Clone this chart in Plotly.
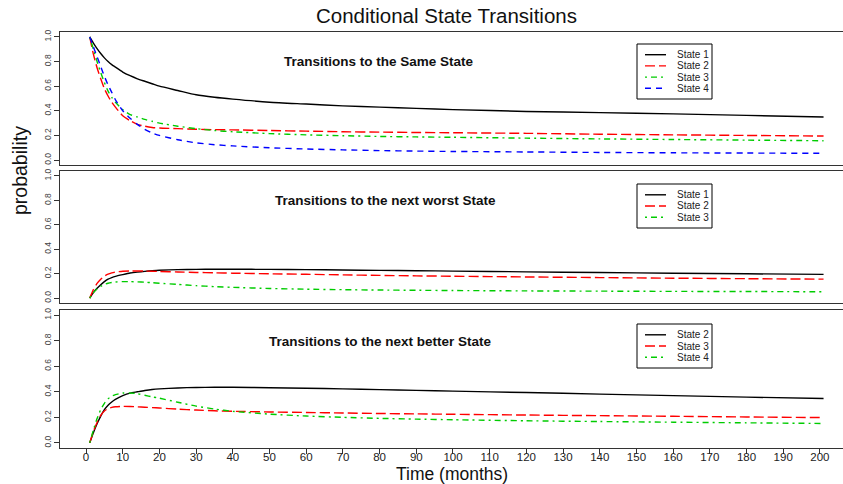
import plotly.graph_objects as go

# ---------------- data ----------------
months = [1, 2, 3, 4, 5, 6, 7, 8, 10, 12, 14, 16, 18, 20, 25, 30, 35, 40,
          50, 60, 70, 80, 90, 100, 120, 140, 160, 180, 201]

same_s1 = [1.0, 0.95, 0.905, 0.865, 0.83, 0.80, 0.775, 0.755, 0.715, 0.685, 0.66, 0.64, 0.62, 0.60,
           0.565, 0.53, 0.51, 0.495, 0.47, 0.455, 0.44, 0.43, 0.42, 0.41, 0.395, 0.385, 0.375, 0.363, 0.35]
same_s2 = [1.0, 0.86, 0.75, 0.66, 0.58, 0.52, 0.47, 0.43, 0.36, 0.32, 0.29, 0.275, 0.265, 0.26,
           0.255, 0.25, 0.247, 0.245, 0.24, 0.235, 0.23, 0.227, 0.224, 0.222, 0.217, 0.21, 0.205, 0.20, 0.195]
same_s3 = [1.0, 0.90, 0.80, 0.71, 0.63, 0.56, 0.51, 0.47, 0.41, 0.37, 0.35, 0.33, 0.315, 0.30,
           0.275, 0.255, 0.24, 0.23, 0.215, 0.205, 0.198, 0.192, 0.188, 0.185, 0.178, 0.172, 0.167, 0.162, 0.157]
same_s4 = [1.0, 0.92, 0.84, 0.76, 0.68, 0.61, 0.55, 0.49, 0.40, 0.34, 0.29, 0.25, 0.22, 0.20,
           0.165, 0.14, 0.125, 0.115, 0.10, 0.09, 0.083, 0.077, 0.073, 0.07, 0.066, 0.062, 0.059, 0.057, 0.055]

worse_s1 = [0.0, 0.045, 0.08, 0.11, 0.135, 0.155, 0.168, 0.178, 0.192, 0.205, 0.213, 0.219, 0.224, 0.228,
            0.233, 0.235, 0.236, 0.236, 0.235, 0.233, 0.23, 0.227, 0.224, 0.221, 0.215, 0.209, 0.204, 0.199, 0.194]
worse_s2 = [0.0, 0.07, 0.12, 0.155, 0.18, 0.196, 0.206, 0.213, 0.22, 0.222, 0.222, 0.221, 0.22, 0.218,
            0.214, 0.21, 0.207, 0.204, 0.199, 0.195, 0.19, 0.186, 0.182, 0.179, 0.173, 0.168, 0.163, 0.159, 0.155]
worse_s3 = [0.0, 0.045, 0.075, 0.097, 0.112, 0.122, 0.128, 0.132, 0.135, 0.135, 0.133, 0.13, 0.126, 0.122,
            0.112, 0.102, 0.094, 0.088, 0.079, 0.073, 0.069, 0.066, 0.064, 0.062, 0.059, 0.057, 0.055, 0.054, 0.052]

better_s2 = [0.0, 0.08, 0.15, 0.21, 0.26, 0.295, 0.32, 0.34, 0.37, 0.39, 0.40, 0.41, 0.418, 0.423,
             0.43, 0.434, 0.435, 0.435, 0.432, 0.428, 0.423, 0.417, 0.411, 0.405, 0.394, 0.382, 0.37, 0.358, 0.347]
better_s3 = [0.0, 0.09, 0.16, 0.215, 0.25, 0.268, 0.278, 0.283, 0.286, 0.285, 0.282, 0.279, 0.276, 0.273,
             0.264, 0.257, 0.251, 0.247, 0.242, 0.238, 0.234, 0.23, 0.227, 0.224, 0.218, 0.213, 0.208, 0.203, 0.198]
better_s4 = [0.0, 0.10, 0.19, 0.26, 0.31, 0.345, 0.365, 0.378, 0.39, 0.39, 0.385, 0.373, 0.36, 0.35,
             0.318, 0.288, 0.265, 0.247, 0.225, 0.21, 0.20, 0.192, 0.186, 0.181, 0.173, 0.167, 0.162, 0.157, 0.152]

x_ticks = list(range(0, 201, 10))
y_ticks = [0.0, 0.2, 0.4, 0.6, 0.8, 1.0]

panels = [
    ("Transitions to the Same State",
     [("State 1", same_s1), ("State 2", same_s2), ("State 3", same_s3), ("State 4", same_s4)]),
    ("Transitions to the next worst State",
     [("State 1", worse_s1), ("State 2", worse_s2), ("State 3", worse_s3)]),
    ("Transitions to the next better State",
     [("State 2", better_s2), ("State 3", better_s3), ("State 4", better_s4)]),
]

# ---------------- styling ----------------
W, H = 843, 484
ML, MR, MT, MB = 60, 0, 32, 36
PW, PH = W - ML - MR, H - MT - MB
FONT = "Liberation Sans, Arial, sans-serif"

def fx(p):
    return (p - ML) / PW

def fy(p):
    return (H - MB - p) / PH

styles = [
    dict(color="black", dash="solid"),
    dict(color="#ff0000", dash="10px,4px"),
    dict(color="#00cc00", dash="2px,4px,6px,4px"),
    dict(color="#0000ff", dash="6px,5px"),
]

# panel pixel extents (top, bottom)
panel_px = [(32, 165), (171, 303), (310, 448)]
title_px = [(379, 62), (385, 200), (380, 341)]
legend_px = [(637, 44, 712, 99), (637, 184, 712, 228), (637, 324, 712, 368)]

fig = go.Figure()
layout = dict(
    width=W, height=H,
    margin=dict(l=ML, r=MR, t=MT, b=MB),
    plot_bgcolor="white", paper_bgcolor="white",
    showlegend=False,
    font=dict(family=FONT, color="#222"),
)
annotations = []
shapes = []

for i, (ptitle, series) in enumerate(panels):
    k = "" if i == 0 else str(i + 1)
    for j, (name, vals) in enumerate(series):
        st = styles[j]
        fig.add_trace(go.Scatter(
            x=months, y=vals, mode="lines", name=name,
            line=dict(color=st["color"], dash=st["dash"], width=1.4, shape="spline", smoothing=0.6),
            xaxis="x" + k, yaxis="y" + k, hoverinfo="skip",
        ))
    top, bot = panel_px[i]
    last = i == 2
    layout["xaxis" + k] = dict(
        domain=[0, 1], range=[-7.1, 206.3], anchor="y" + k,
        showgrid=False, zeroline=False, showline=True, mirror=True,
        linecolor="#333", linewidth=1,
        tickmode="array", tickvals=x_ticks, ticktext=[str(v) for v in x_ticks],
        ticks="outside" if last else "", ticklen=5, tickcolor="#333",
        showticklabels=last, tickfont=dict(size=11.5, color="#222"),
        ticklabelstandoff=-7 if last else 0,
    )
    if i > 0:
        layout["xaxis" + k]["matches"] = "x"
    layout["yaxis" + k] = dict(
        domain=[fy(bot), fy(top)], range=[-0.04, 1.04], anchor="x" + k,
        showgrid=False, zeroline=False, showline=True, mirror=False,
        linecolor="#333", linewidth=1,
        tickmode="array", tickvals=y_ticks, ticktext=["%.1f" % v for v in y_ticks],
        ticks="outside", ticklen=5, tickcolor="#333",
        tickangle=-90, tickfont=dict(size=8.5, color="#444"),
    )
    # panel subtitle
    tx, ty = title_px[i]
    annotations.append(dict(
        x=fx(tx), y=fy(ty), xref="paper", yref="paper", text="<b>%s</b>" % ptitle,
        showarrow=False, font=dict(size=13.5, color="#111"), xanchor="center", yanchor="middle",
    ))
    # legend box
    lx0, ly0, lx1, ly1 = legend_px[i]
    shapes.append(dict(type="rect", xref="paper", yref="paper",
                       x0=fx(lx0), x1=fx(lx1), y0=fy(ly1), y1=fy(ly0),
                       line=dict(color="black", width=1), fillcolor="white", layer="above"))
    n = len(series)
    row_h = 11.2
    first = ly0 + (ly1 - ly0 - row_h * (n - 1)) / 2
    for j, (name, vals) in enumerate(series):
        st = styles[j]
        ry = first + j * row_h
        shapes.append(dict(type="line", xref="paper", yref="paper",
                           x0=fx(lx0 + 8), x1=fx(lx0 + 29), y0=fy(ry), y1=fy(ry),
                           line=dict(color=st["color"], width=1.4, dash=st["dash"]), layer="above"))
        annotations.append(dict(
            x=fx(lx0 + 38), y=fy(ry), xref="paper", yref="paper", text=name,
            showarrow=False, font=dict(size=10, color="#222"), xanchor="left", yanchor="middle",
        ))

# global texts
annotations.append(dict(x=fx(446), y=fy(16), xref="paper", yref="paper",
                        text="Conditional State Transitions", showarrow=False,
                        font=dict(size=20.5, color="#111"), xanchor="center", yanchor="middle"))
annotations.append(dict(x=fx(452), y=fy(474), xref="paper", yref="paper",
                        text="Time (months)", showarrow=False,
                        font=dict(size=17.5, color="#111"), xanchor="center", yanchor="middle"))
annotations.append(dict(x=fx(20), y=fy(171), xref="paper", yref="paper",
                        text="probability", showarrow=False, textangle=-90,
                        font=dict(size=19.5, color="#111"), xanchor="center", yanchor="middle"))

layout["annotations"] = annotations
layout["shapes"] = shapes
fig.update_layout(**layout)

fig.write_html("out.html")
